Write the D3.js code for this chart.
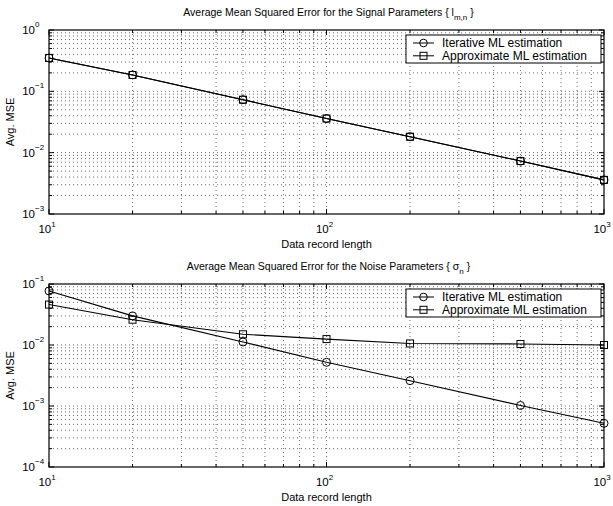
<!DOCTYPE html>
<html><head><meta charset="utf-8">
<script src="https://cdn.jsdelivr.net/npm/d3@7"></script>
<style>body{margin:0;background:#fff}svg{font-family:"Liberation Sans",Arial,sans-serif}</style>
</head><body>
<svg id="c" width="613" height="506"></svg>
<script>
const lengths = [10, 20, 50, 100, 200, 500, 1000];
const signalIterative = [0.35, 0.185, 0.073, 0.036, 0.0182, 0.0073, 0.0036];
const signalApprox    = [0.35, 0.185, 0.073, 0.036, 0.0182, 0.0073, 0.0036];
const noiseIterative  = [0.077, 0.030, 0.0112, 0.0052, 0.0026, 0.00102, 0.00052];
const noiseApprox     = [0.046, 0.026, 0.0150, 0.0125, 0.0106, 0.0104, 0.0100];
const seriesNames = ["Iterative ML estimation", "Approximate ML estimation"];
const xTickExps = [1, 2, 3];

const svg = d3.select("#c");

function drawPanel(cfg) {
  const x = d3.scaleLog().domain([10, 1000]).range([cfg.left, cfg.right]);
  const y = d3.scaleLog().domain(cfg.ydom).range([cfg.top, cfg.bottom]);
  const g = svg.append("g");
  const xs = [], ys = [];
  for (let e = 1; e < 3; e++) for (let m = 1; m < 10; m++) xs.push(m * Math.pow(10, e));
  xs.push(1000);
  const yLo = Math.round(Math.log10(cfg.ydom[1])), yHi = Math.round(Math.log10(cfg.ydom[0]));
  for (let e = yLo; e < yHi; e++) for (let m = 1; m < 10; m++) ys.push(m * Math.pow(10, e));
  ys.push(Math.pow(10, yHi));
  // grid
  g.selectAll(".gx").data(xs.filter(v => v > 10 && v < 1000)).join("line")
    .attr("x1", d => x(d)).attr("x2", d => x(d)).attr("y1", cfg.top).attr("y2", cfg.bottom)
    .attr("stroke", "#444").attr("stroke-width", 0.8).attr("stroke-dasharray", "1,3");
  g.selectAll(".gy").data(ys.filter(v => v > cfg.ydom[1] * 1.0001 && v < cfg.ydom[0] * 0.9999)).join("line")
    .attr("y1", d => y(d)).attr("y2", d => y(d)).attr("x1", cfg.left).attr("x2", cfg.right)
    .attr("stroke", "#444").attr("stroke-width", 0.8).attr("stroke-dasharray", "1,3");
  // ticks (inward, all sides)
  const isMajor = v => Math.abs(Math.log10(v) - Math.round(Math.log10(v))) < 1e-6;
  xs.forEach(v => {
    const L = isMajor(v) ? 5 : 3;
    g.append("line").attr("x1", x(v)).attr("x2", x(v)).attr("y1", cfg.bottom).attr("y2", cfg.bottom - L).attr("stroke", "#000");
    g.append("line").attr("x1", x(v)).attr("x2", x(v)).attr("y1", cfg.top).attr("y2", cfg.top + L).attr("stroke", "#000");
  });
  ys.forEach(v => {
    const L = isMajor(v) ? 5 : 3;
    g.append("line").attr("y1", y(v)).attr("y2", y(v)).attr("x1", cfg.left).attr("x2", cfg.left + L).attr("stroke", "#000");
    g.append("line").attr("y1", y(v)).attr("y2", y(v)).attr("x1", cfg.right).attr("x2", cfg.right - L).attr("stroke", "#000");
  });
  // frame
  g.append("rect").attr("x", cfg.left).attr("y", cfg.top).attr("width", cfg.right - cfg.left)
    .attr("height", cfg.bottom - cfg.top).attr("fill", "none").attr("stroke", "#000").attr("stroke-width", 1.2);
  // x tick labels
  xTickExps.forEach(e => {
    const t = g.append("text").attr("x", x(Math.pow(10, e)) - 2).attr("y", cfg.bottom + 19)
      .attr("text-anchor", "middle").attr("font-size", 11.5);
    t.append("tspan").text("10");
    t.append("tspan").attr("dy", -6).attr("font-size", 8).text(e);
  });
  // y tick labels
  for (let e = yLo; e <= yHi; e++) {
    g.append("text").attr("x", cfg.left - 14).attr("y", y(Math.pow(10, e)) + 4)
      .attr("text-anchor", "end").attr("font-size", 11.5).text("10");
    g.append("text").attr("x", cfg.left - 14).attr("y", y(Math.pow(10, e)) - 3)
      .attr("text-anchor", "start").attr("font-size", 8).text(e === 0 ? "0" : "\u2212" + (-e));
  }
  // axis labels
  g.append("text").attr("x", (cfg.left + cfg.right) / 2).attr("y", cfg.bottom + 34)
    .attr("text-anchor", "middle").attr("font-size", 11).text("Data record length");
  g.append("text").attr("transform", `translate(14,${(cfg.top + cfg.bottom) / 2}) rotate(-90)`)
    .attr("text-anchor", "middle").attr("font-size", 11).text("Avg. MSE");
  // title
  const tt = g.append("text").attr("x", (cfg.left + cfg.right) / 2 + 2).attr("y", cfg.top - 14)
    .attr("text-anchor", "middle").attr("font-size", 10.5);
  tt.append("tspan").text(cfg.titleMain + " { ");
  tt.append("tspan").text(cfg.sym);
  tt.append("tspan").attr("dy", 4).attr("font-size", 8).text(cfg.sub);
  tt.append("tspan").attr("dy", -4).text(" }");
  // series
  const line = d3.line().x((d, i) => x(lengths[i])).y(d => y(d));
  [cfg.s1, cfg.s2].forEach((s, k) => {
    g.append("path").datum(s).attr("d", line).attr("fill", "none").attr("stroke", "#000").attr("stroke-width", 1.1);
    if (k === 0) {
      g.selectAll(null).data(s).join("circle").attr("cx", (d, i) => x(lengths[i])).attr("cy", d => y(d))
        .attr("r", 4).attr("fill", "none").attr("stroke", "#000").attr("stroke-width", 1);
    } else {
      g.selectAll(null).data(s).join("rect").attr("x", (d, i) => x(lengths[i]) - 3.5).attr("y", d => y(d) - 3.5)
        .attr("width", 7).attr("height", 7).attr("fill", "none").attr("stroke", "#000").attr("stroke-width", 1);
    }
  });
  // legend
  const lx = cfg.right - 198, ly = cfg.top + 5, lw = 195, lh = 28;
  g.append("rect").attr("x", lx).attr("y", ly).attr("width", lw).attr("height", lh)
    .attr("fill", "#fff").attr("stroke", "#000").attr("stroke-width", 1);
  seriesNames.forEach((n, k) => {
    const yy = ly + 8 + k * 12.8;
    g.append("line").attr("x1", lx + 7).attr("x2", lx + 28).attr("y1", yy).attr("y2", yy).attr("stroke", "#000");
    if (k === 0) g.append("circle").attr("cx", lx + 17.5).attr("cy", yy).attr("r", 3.8).attr("fill", "none").attr("stroke", "#000");
    else g.append("rect").attr("x", lx + 14).attr("y", yy - 3.5).attr("width", 7).attr("height", 7).attr("fill", "none").attr("stroke", "#000");
    g.append("text").attr("x", lx + 36).attr("y", yy + 4).attr("font-size", 12).text(n);
  });
}

drawPanel({left: 49, right: 604, top: 30, bottom: 214, ydom: [1, 0.001],
  titleMain: "Average Mean Squared Error for the Signal Parameters", sym: "l", sub: "m,n",
  s1: signalIterative, s2: signalApprox});
drawPanel({left: 49, right: 604, top: 284, bottom: 467, ydom: [0.1, 0.0001],
  titleMain: "Average Mean Squared Error for the Noise Parameters", sym: "\u03C3", sub: "n",
  s1: noiseIterative, s2: noiseApprox});
</script>
</body></html>
